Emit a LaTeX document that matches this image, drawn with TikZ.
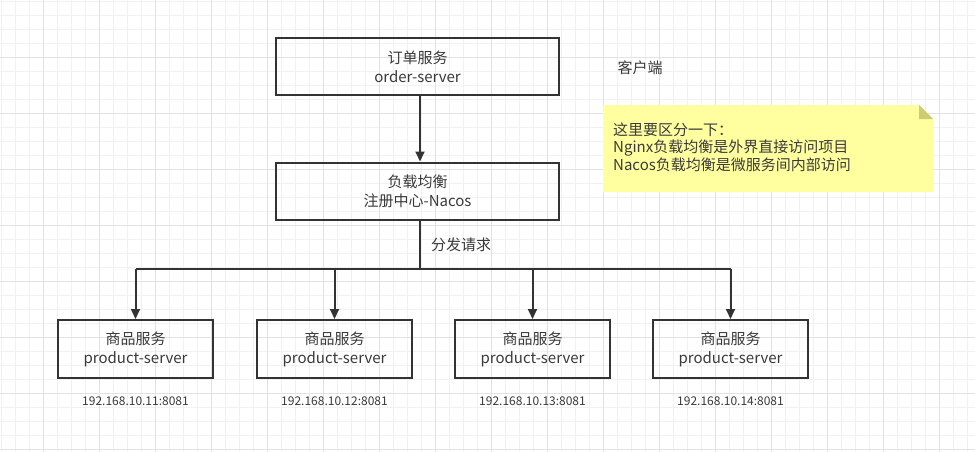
\documentclass[tikz,border=0pt]{standalone}
\usepackage{fontspec}
\setmainfont{Noto Sans CJK SC}
\usetikzlibrary{arrows.meta,positioning}
\definecolor{linegray}{HTML}{333333}
\definecolor{textgray}{HTML}{3A3A3A}
\definecolor{gridminor}{HTML}{F1F1F1}
\definecolor{gridmajor}{HTML}{E2E2E2}
\definecolor{notefill}{HTML}{FFFFA0}
\definecolor{notefold}{HTML}{CCCC72}

\begin{document}
\begin{tikzpicture}[x=1pt, y=-1pt,
    box/.style = {draw=linegray, line width=2pt, align=center, text=textgray,
                  font=\fontsize{15}{19}\selectfont, inner sep=0pt},
    mainbox/.style = {box, minimum width=283pt, minimum height=57pt},
    prodbox/.style = {box, minimum width=155pt, minimum height=58pt},
    iplabel/.style = {text=textgray, font=\fontsize{12}{14}\selectfont, inner sep=0pt},
    plain/.style = {text=textgray, font=\fontsize{15}{19}\selectfont, inner sep=0pt},
    link/.style = {draw=linegray, line width=2pt},
    arrow/.style = {link, -{Triangle[length=10pt, width=9pt]}}]
  \useasboundingbox (0,0) rectangle (975,452);
  % grid background
  \fill[white] (0,0) rectangle (975,452);
  \foreach \x in {1,15,...,975} \draw[gridminor, line width=0.8pt] (\x,0) -- (\x,452);
  \foreach \y in {1,15,...,452} \draw[gridminor, line width=0.8pt] (0,\y) -- (975,\y);
  \foreach \x in {43,99,...,975} \draw[gridmajor, line width=0.8pt] (\x,0) -- (\x,452);
  \foreach \y in {57,113,...,452} \draw[gridmajor, line width=0.8pt] (0,\y) -- (975,\y);

  % services
  \node[mainbox] (order) at (417.5,66.5) {订单服务\\order-server};
  \node[mainbox] (lb) at (417.5,191) {负载均衡\\注册中心-Nacos};
  \node[plain] (client) at (640,68) {客户端};
  \node[plain] (dispatch) at (461,245) {分发请求};

  \foreach \i/\cx in {1/135.5,2/334.5,3/532.5,4/730.5} {
    \node[prodbox] (prod\i) at (\cx,349) {商品服务\\product-server};
    \node[iplabel, below=18pt of prod\i] (ip\i) {192.168.10.1\i:8081};
  }

  % note
  \fill[notefill] (603,105) -- (919,105) -- (933,119) -- (933,192) -- (603,192) -- cycle;
  \fill[notefold] (919,105) -- (933,119) -- (919,119) -- cycle;
  \node[plain, anchor=north west, align=left, font=\fontsize{15}{17.5}\selectfont] (note) at (613,122.5)
    {这里要区分一下：\\Nginx负载均衡是外界直接访问项目\\Nacos负载均衡是微服务间内部访问};

  % connectors
  \coordinate (split) at (420,269);
  \draw[arrow] ([xshift=2.5pt]order.south) -- ([xshift=2.5pt]lb.north);
  \draw[link] ([xshift=2.5pt]lb.south) -- (split);
  \draw[link] (split) -- (split -| prod1.north) (split) -- (split -| prod4.north);
  \foreach \i in {1,...,4}
    \draw[arrow] (split -| prod\i.north) -- (prod\i.north);
\end{tikzpicture}
\end{document}
